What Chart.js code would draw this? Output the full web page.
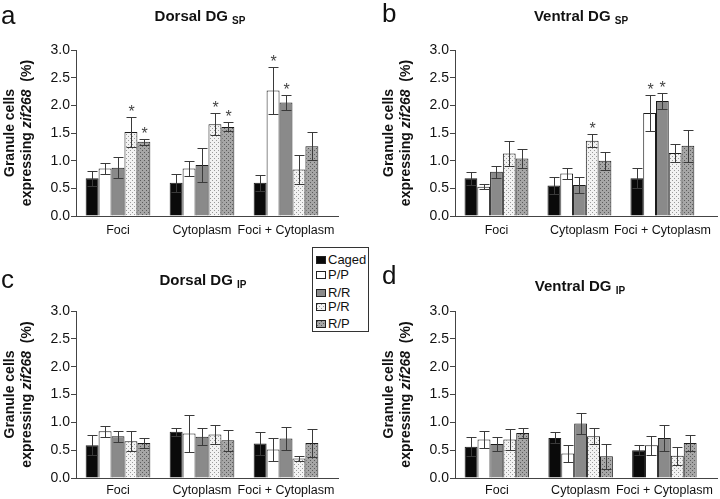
<!DOCTYPE html>
<html>
<head>
<meta charset="utf-8">
<script src="https://cdn.jsdelivr.net/npm/chart.js@4/dist/chart.umd.min.js"></script>
<style>
  body { margin: 0; background: #fff; }
  #page { position: relative; width: 720px; height: 499px; overflow: hidden; font-family: "Liberation Sans", Arial, sans-serif; color: #111; }
  .panel { position: absolute; }
  .letter { position: absolute; font-size: 26px; line-height: 26px; }
  .title { position: absolute; font-size: 15px; font-weight: bold; white-space: nowrap; transform: translateX(-50%); }
  .title sub { font-size: 10px; vertical-align: -3px; }
  #legend { position: absolute; left: 312px; top: 247px; width: 55px; height: 83px; border: 1px solid #333; background: #fff; }
  .item { position: absolute; left: 3px; font-size: 13px; line-height: 13px; white-space: nowrap; }
  .sw { display: inline-block; width: 10px; height: 8px; border: 1px solid #222; box-sizing: border-box; margin-right: 2px; vertical-align: 0px; }
</style>
</head>
<body>
<div id="page">
  <div class="panel" style="left:0;top:0;width:360px;height:250px"><canvas id="chartA"></canvas></div>
  <div class="panel" style="left:360px;top:0;width:360px;height:250px"><canvas id="chartB"></canvas></div>
  <div class="panel" style="left:0;top:250px;width:360px;height:249px"><canvas id="chartC"></canvas></div>
  <div class="panel" style="left:360px;top:250px;width:360px;height:249px"><canvas id="chartD"></canvas></div>

  <div class="letter" style="left:1px;top:2px">a</div>
  <div class="letter" style="left:382px;top:0px">b</div>
  <div class="letter" style="left:1px;top:266px">c</div>
  <div class="letter" style="left:382px;top:262px">d</div>

  <div class="title" style="left:200px;top:7px">Dorsal DG <sub>SP</sub></div>
  <div class="title" style="left:581px;top:7px">Ventral DG <sub>SP</sub></div>
  <div class="title" style="left:203px;top:271px">Dorsal DG <sub>IP</sub></div>
  <div class="title" style="left:580px;top:277px">Ventral DG <sub>IP</sub></div>

  <div id="legend"></div>
</div>
<script>
const categories = ['Foci', 'Cytoplasm', 'Foci + Cytoplasm'];
const groups = ['Caged', 'P/P', 'R/R', 'P/R', 'R/P'];
const yTicks = [0, 0.5, 1.0, 1.5, 2.0, 2.5, 3.0];

// rows = groups (Caged, P/P, R/R, P/R, R/P), columns = categories
const dorsalSpMean = [
  [0.68, 0.60, 0.60],
  [0.86, 0.86, 2.27],
  [0.87, 0.92, 2.05],
  [1.52, 1.66, 0.84],
  [1.34, 1.61, 1.26]
];
const dorsalSpErr = [
  [0.14, 0.16, 0.15],
  [0.10, 0.13, 0.42],
  [0.19, 0.30, 0.14],
  [0.27, 0.20, 0.27],
  [0.05, 0.08, 0.25]
];
const dorsalSpStars = [[3, 0], [4, 0], [3, 1], [4, 1], [1, 2], [2, 2]];

const ventralSpMean = [
  [0.68, 0.55, 0.68],
  [0.53, 0.77, 1.86],
  [0.80, 0.56, 2.08],
  [1.13, 1.36, 1.14],
  [1.04, 1.00, 1.27]
];
const ventralSpErr = [
  [0.12, 0.16, 0.18],
  [0.04, 0.10, 0.33],
  [0.11, 0.14, 0.15],
  [0.23, 0.12, 0.16],
  [0.17, 0.16, 0.29]
];
const ventralSpStars = [[3, 1], [1, 2], [2, 2]];

const dorsalIpMean = [
  [0.59, 0.83, 0.62],
  [0.84, 0.80, 0.51],
  [0.75, 0.74, 0.71],
  [0.66, 0.78, 0.35],
  [0.63, 0.68, 0.63]
];
const dorsalIpErr = [
  [0.18, 0.07, 0.20],
  [0.10, 0.33, 0.21],
  [0.10, 0.15, 0.20],
  [0.18, 0.17, 0.05],
  [0.09, 0.19, 0.25]
];
const dorsalIpStars = [];

const ventralIpMean = [
  [0.56, 0.72, 0.50],
  [0.69, 0.44, 0.59],
  [0.61, 0.98, 0.72],
  [0.69, 0.75, 0.40],
  [0.81, 0.39, 0.63]
];
const ventralIpErr = [
  [0.17, 0.10, 0.09],
  [0.16, 0.15, 0.17],
  [0.12, 0.19, 0.24],
  [0.19, 0.14, 0.16],
  [0.09, 0.22, 0.14]
];
const ventralIpStars = [];

function dotPattern(base, dot) {
  const c = document.createElement('canvas');
  c.width = 4; c.height = 4;
  const g = c.getContext('2d');
  g.fillStyle = base; g.fillRect(0, 0, 4, 4);
  g.fillStyle = dot;
  g.fillRect(0, 0, 1, 1);
  g.fillRect(2, 2, 1, 1);
  return c;
}
const prTile = dotPattern('#f2f2f2', '#9a9a9a');
const rpTile = dotPattern('#a6a6a6', '#5c5c5c');
const tmp = document.createElement('canvas').getContext('2d');
const fills = ['#0a0a0a', '#ffffff', '#8a8a8a', tmp.createPattern(prTile, 'repeat'), tmp.createPattern(rpTile, 'repeat')];
const swatchCss = ['#0a0a0a', '#ffffff', '#8a8a8a', 'url(' + prTile.toDataURL() + ')', 'url(' + rpTile.toDataURL() + ')'];

// legend (html text)
const legendTops = [5, 20, 38, 52, 69];
const legend = document.getElementById('legend');
groups.forEach((g, i) => {
  const d = document.createElement('div');
  d.className = 'item';
  d.style.top = legendTops[i] + 'px';
  d.innerHTML = '<span class="sw" style="background:' + swatchCss[i] + '"></span>' + g;
  legend.appendChild(d);
});

const errorBarPlugin = {
  id: 'errorBars',
  afterDatasetsDraw(chart) {
    const ctx = chart.ctx;
    const y = chart.scales.y;
    ctx.save();
    ctx.strokeStyle = '#3a3a3a';
    ctx.lineWidth = 1;
    chart.data.datasets.forEach((ds, i) => {
      chart.getDatasetMeta(i).data.forEach((bar, j) => {
        const m = ds.data[j], e = ds.errors[j];
        const top = Math.round(y.getPixelForValue(m + e)) + 0.5;
        const bot = Math.round(y.getPixelForValue(Math.max(0, m - e))) + 0.5;
        const x = Math.round(bar.x) + 0.5;
        ctx.beginPath();
        ctx.moveTo(x, top); ctx.lineTo(x, bot);
        ctx.moveTo(x - 5, top); ctx.lineTo(x + 5, top);
        ctx.moveTo(x - 5, bot); ctx.lineTo(x + 5, bot);
        ctx.stroke();
        if (ds.stars.includes(j)) {
          ctx.fillStyle = '#444';
          ctx.font = '16px "Liberation Sans", Arial, sans-serif';
          ctx.textAlign = 'center';
          ctx.textBaseline = 'alphabetic';
          ctx.fillText('*', x, top - 1);
        }
      });
    });
    // x axis line
    const a = chart.chartArea;
    ctx.strokeStyle = '#444';
    ctx.beginPath();
    ctx.moveTo(a.left, Math.round(a.bottom) + 0.5);
    ctx.lineTo(a.left + 263, Math.round(a.bottom) + 0.5);
    ctx.stroke();
    // y axis title
    const cy = (a.top + a.bottom) / 2;
    ctx.translate(a.left - 60, cy);
    ctx.rotate(-Math.PI / 2);
    ctx.fillStyle = '#111';
    ctx.textBaseline = 'middle';
    ctx.textAlign = 'center';
    ctx.font = 'bold 14px "Liberation Sans", Arial, sans-serif';
    ctx.fillText('Granule cells', 0, -6);
    const p1 = 'expressing ', p2 = 'zif268', p3 = '  (%)';
    const w1 = ctx.measureText(p1).width, w3 = ctx.measureText(p3).width;
    ctx.font = 'italic bold 14px "Liberation Sans", Arial, sans-serif';
    const w2 = ctx.measureText(p2).width;
    let x0 = -(w1 + w2 + w3) / 2;
    ctx.textAlign = 'left';
    ctx.font = 'bold 14px "Liberation Sans", Arial, sans-serif';
    ctx.fillText(p1, x0, 11);
    ctx.font = 'italic bold 14px "Liberation Sans", Arial, sans-serif';
    ctx.fillText(p2, x0 + w1, 11);
    ctx.font = 'bold 14px "Liberation Sans", Arial, sans-serif';
    ctx.fillText(p3, x0 + w1 + w2, 11);
    ctx.restore();
  }
};

function makeChart(id, means, errs, stars, pad, xHeight, xPad) {
  const datasets = groups.map((g, i) => ({
    label: g,
    data: means[i],
    errors: errs[i],
    stars: stars.filter(s => s[0] === i).map(s => s[1]),
    backgroundColor: fills[i],
    borderColor: '#1a1a1a',
    borderWidth: 1,
    borderSkipped: 'bottom',
    categoryPercentage: 0.77,
    barPercentage: 1.0
  }));
  return new Chart(document.getElementById(id), {
    type: 'bar',
    data: { labels: categories, datasets: datasets },
    plugins: [errorBarPlugin],
    options: {
      responsive: true,
      maintainAspectRatio: false,
      animation: false,
      layout: { padding: pad },
      plugins: { legend: { display: false }, tooltip: { enabled: false } },
      scales: {
        x: {
          grid: { display: false, drawTicks: false, tickLength: 0 },
          border: { display: false },
          ticks: { color: '#111', padding: xPad, maxRotation: 0, minRotation: 0, autoSkip: false, font: { size: 12.5, family: '"Liberation Sans", Arial, sans-serif' } },
          afterFit: s => { s.height = xHeight; }
        },
        y: {
          min: 0, max: 3,
          afterBuildTicks: s => { s.ticks = yTicks.map(v => ({ value: v })); },
          grid: { drawOnChartArea: false, drawTicks: true, tickLength: 5, color: '#444' },
          border: { display: true, color: '#444' },
          ticks: { color: '#111', padding: 1, callback: v => v.toFixed(1), font: { size: 14, family: '"Liberation Sans", Arial, sans-serif' } },
          afterFit: s => { s.width = 40; }
        }
      }
    }
  });
}

makeChart('chartA', dorsalSpMean, dorsalSpErr, dorsalSpStars, { left: 36, top: 50, right: 32, bottom: 0 }, 34, 7);
makeChart('chartB', ventralSpMean, ventralSpErr, ventralSpStars, { left: 55, top: 50, right: 13, bottom: 0 }, 34, 7);
makeChart('chartC', dorsalIpMean, dorsalIpErr, dorsalIpStars, { left: 36, top: 61, right: 32, bottom: 0 }, 21, 5);
makeChart('chartD', ventralIpMean, ventralIpErr, ventralIpStars, { left: 55, top: 61, right: 13, bottom: 0 }, 21, 5);
</script>
</body>
</html>
